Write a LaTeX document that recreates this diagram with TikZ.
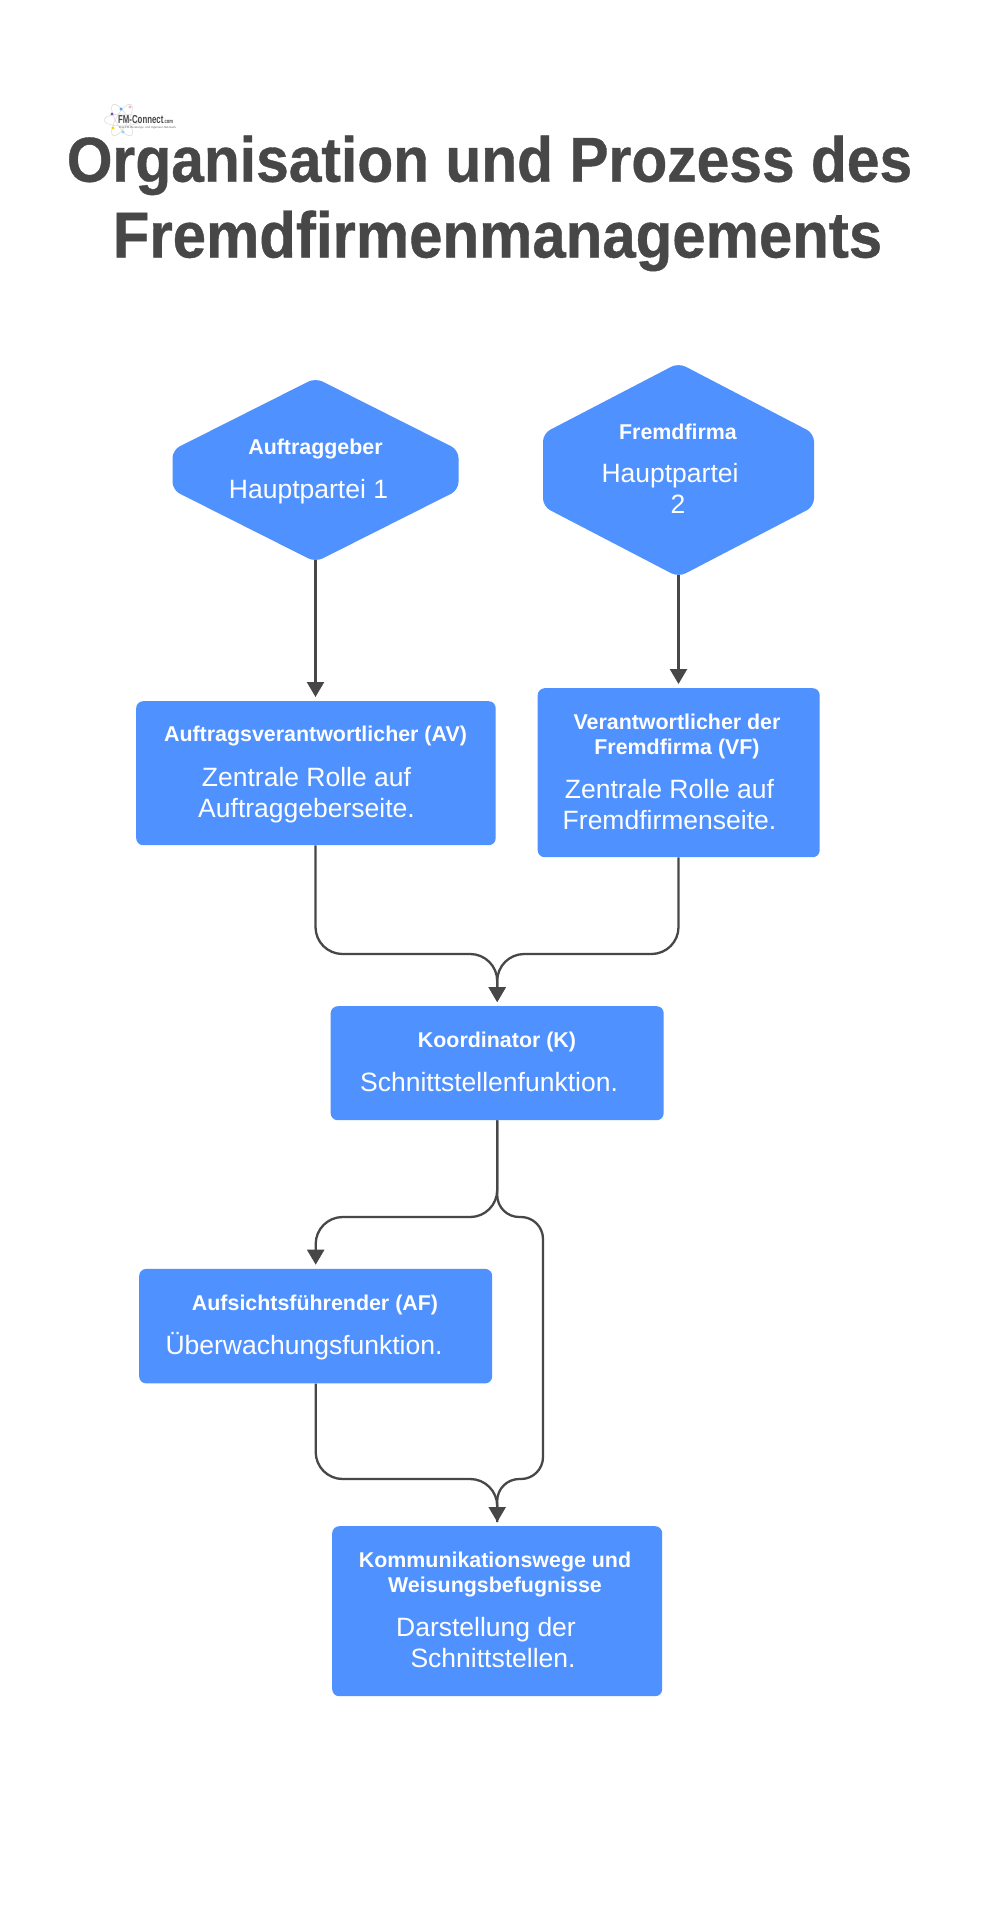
\documentclass[tikz,border=0pt]{standalone}
\usepackage{fontspec}
\setmainfont{Liberation Sans}
\newfontfamily\titlefont[FakeStretch=0.925,FakeBold=0.6]{Liberation Sans Bold}
\newfontfamily\logofont[FakeStretch=0.68]{Liberation Sans Bold}
\usetikzlibrary{arrows.meta,calc}
\definecolor{boxblue}{HTML}{4F91FF}
\definecolor{ink}{HTML}{474747}
\tikzset{
  x=1pt,y=-1pt,
  boxnode/.style={draw=none,fill=boxblue,rounded corners=7pt,inner sep=0pt,anchor=north west},
  hexanchor/.style={inner sep=0pt,anchor=center},
  hexfill/.style={fill=boxblue,rounded corners=8pt},
  headtext/.style={text=white,font=\fontsize{21.4}{25}\selectfont\bfseries,align=center,inner sep=0pt},
  bodytext/.style={text=white,font=\fontsize{26.5}{31}\selectfont,align=center,inner sep=0pt},
  titletext/.style={text=ink,inner sep=0pt,anchor=base},
  link/.style={draw=ink,line width=2.3pt,-{Triangle[length=15pt,width=17pt]},shorten >=4pt},
  linkround/.style={link,rounded corners=27pt},
  linksoft/.style={link,rounded corners=22pt},
  orbit/.style={draw=gray!30,line width=.5pt},
}
\begin{document}
\begin{tikzpicture}
\useasboundingbox (0,0) rectangle (994,1919);
\fill[white] (0,0) rectangle (994,1919);
% logo
\begin{scope}[shift={(122,120)}]
\draw[orbit] (0,0) ellipse [x radius=18pt,y radius=6pt];
\draw[orbit,rotate=60] (0,0) ellipse [x radius=18pt,y radius=6pt];
\draw[orbit,rotate=-60] (0,0) ellipse [x radius=18pt,y radius=6pt];
\fill[violet!60!blue!70] (-10,-6) circle (1.6pt);
\fill[blue!50!cyan!70] (-1,-11) circle (1.6pt);
\fill[red!30] (8,-13) circle (1.6pt);
\fill[yellow!70!orange] (-9,8) circle (1.6pt);
\fill[cyan!50] (1,12) circle (1.6pt);
\end{scope}
\node[inner sep=0pt,anchor=base west,text=ink,font=\fontsize{11.5}{12}\selectfont\logofont] (logo) at (118,123.5) {FM-Connect\fontsize{6}{6}\selectfont.com};
\node[inner sep=0pt,anchor=base west,text=ink!80,font=\fontsize{2.9}{3}\selectfont] (logosub) at (119,128.5) {Das FM-Beratungs- und Ingenieur-Netzwerk};
% title
\node[titletext,font=\fontsize{63.5}{78}\selectfont\titlefont] (title1) at (489.5,181.7) {Organisation und Prozess des};
\node[titletext,font=\fontsize{64.8}{78}\selectfont\titlefont] (title2) at (497.5,257.5) {Fremdfirmenmanagements};
% shapes
\node[hexanchor,minimum width=286pt,minimum height=180pt] (d1) at (315.5,470) {};
\fill[hexfill] (315.5,378) -- (458.5,450) -- (458.5,490) -- (315.5,562) -- (172.5,490) -- (172.5,450) -- cycle;
\node[hexanchor,minimum width=271pt,minimum height=210pt] (d2) at (678.5,470) {};
\fill[hexfill] (678.5,363) -- (814,433.5) -- (814,506.5) -- (678.5,577) -- (543,506.5) -- (543,433.5) -- cycle;
\node[boxnode,minimum width=359.5pt,minimum height=144pt] (av) at (136,701) {};
\node[boxnode,minimum width=282pt,minimum height=169pt] (vf) at (537.5,688) {};
\node[boxnode,minimum width=333pt,minimum height=114pt] (k) at (330.5,1006) {};
\node[boxnode,minimum width=353pt,minimum height=114.5pt] (af) at (139,1268.7) {};
\node[boxnode,minimum width=330pt,minimum height=170pt] (kw) at (332,1526) {};
% text
\node[headtext,anchor=base] (t1) at (315.5,454) {Auftraggeber};
\node[bodytext,anchor=base] (b1) at (308.5,498) {Hauptpartei 1};
\node[headtext,anchor=base] (t2) at (678,439) {Fremdfirma};
\node[bodytext] (b2) at (678,488.7) {Hauptpartei\hspace*{16pt}\\2};
\node[headtext,anchor=base] (t3) at (315.5,741.7) {Auftragsverantwortlicher (AV)};
\node[bodytext] (b3) at (306.5,795) {Zentrale Rolle auf\\Auftraggeberseite.};
\node[headtext] (t4) at (677,736) {Verantwortlicher der\\Fremdfirma (VF)};
\node[bodytext] (b4) at (669.5,804.5) {Zentrale Rolle auf\\Fremdfirmenseite.};
\node[headtext,anchor=base] (t5) at (497,1047.7) {Koordinator (K)};
\node[bodytext,anchor=base] (b5) at (489,1091.7) {Schnittstellenfunktion.};
\node[headtext,anchor=base] (t6) at (315,1310.4) {Aufsichtsführender (AF)};
\node[bodytext,anchor=base] (b6) at (304,1354.4) {Überwachungsfunktion.};
\node[headtext] (t7) at (495,1574) {Kommunikationswege und\\Weisungsbefugnisse};
\node[bodytext] (b7) at (493,1642.4) {Darstellung der\hspace*{14pt}\\Schnittstellen.};
% connectors
\coordinate (m1) at (0,954);
\coordinate (m2) at (0,1217);
\coordinate (m3) at (0,1479);
\coordinate (r1) at (543,0);
\draw[link] (d1.south) -- (av.north -| d1.south);
\draw[link] (d2.south) -- (vf.north -| d2.south);
\draw[linkround] (av.south -| d1.south) -- (d1.south |- m1) -- (k.north |- m1) -- (k.north);
\draw[linkround] (vf.south -| d2.south) -- (d2.south |- m1) -- (k.north |- m1) -- (k.north);
\draw[linkround] (k.south) -- (k.south |- m2) -- (af.north |- m2) -- (af.north);
\draw[linksoft,-] (k.south) -- (k.south |- m2) -- (r1 |- m2) -- (r1 |- m3) -- (kw.north |- m3) -- (kw.north);
\draw[linkround] (af.south) -- (af.south |- m3) -- (kw.north |- m3) -- (kw.north);
\end{tikzpicture}
\end{document}
